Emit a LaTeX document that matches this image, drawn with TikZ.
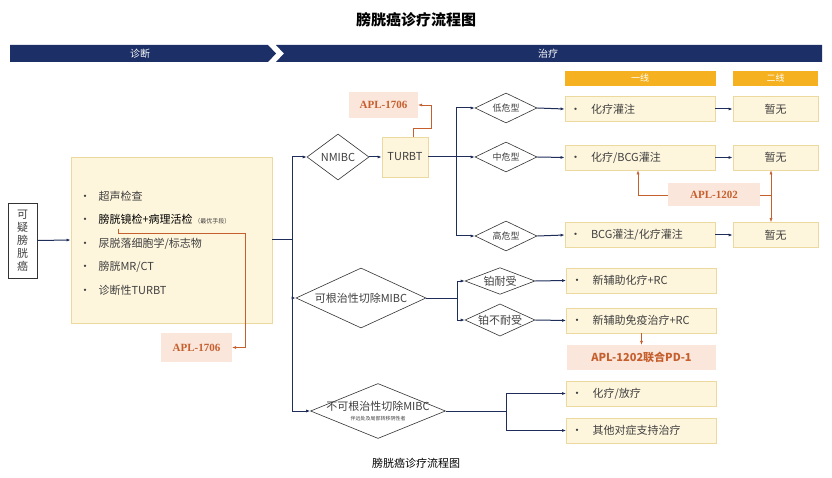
\documentclass[tikz,border=0pt]{standalone}
\usepackage{fontspec}
\setmainfont{Liberation Serif}
\newfontfamily\cjk{Noto Sans CJK SC}
\usetikzlibrary{shapes.geometric,arrows.meta}
\definecolor{navy}{HTML}{1C2F66}
\definecolor{hdr}{HTML}{F5B120}
\definecolor{bfill}{HTML}{FDF5DC}
\definecolor{bline}{HTML}{ECD9A0}
\definecolor{aplfill}{HTML}{FBE6DC}
\definecolor{apltext}{HTML}{C5602E}
\definecolor{ln}{HTML}{1F2D5A}
\begin{document}
\begin{tikzpicture}[x=1pt,y=-1pt,
  every node/.style={font=\cjk\fontsize{11}{13}\selectfont,text=black!75},
  ybox/.style={draw=bline,fill=bfill,line width=0.8pt,minimum height=25pt,inner sep=2pt},
  lbox/.style={ybox,minimum width=150pt,text width=140pt,align=left},
  rbox/.style={ybox,minimum width=85pt},
  dia/.style={diamond,draw=black!80,aspect=2,inner sep=0pt,line width=0.6pt},
  apl/.style={fill=aplfill,text=apltext,font=\bfseries\fontsize{11}{13}\selectfont,inner sep=3pt},
  hd/.style={fill=hdr,text=white,minimum height=15pt,inner sep=0pt,font=\cjk\fontsize{9}{10}\selectfont},
  arr/.style={-{Latex[length=4pt,width=3pt]},draw=ln,line width=1pt},
  oarr/.style={-{Latex[length=4pt,width=3pt]},draw=apltext,line width=0.5pt},
  ln/.style={draw=ln,line width=1pt}]
\useasboundingbox (0,0) rectangle (832,478);
\fill[white] (0,0) rectangle (832,478);
\node[font=\cjk\bfseries\fontsize{15}{17}\selectfont,text=black] (title) at (416,20) {膀胱癌诊疗流程图};
\fill[navy] (10,45) -- (268,45) -- (276,53.5) -- (268,62) -- (10,62) -- cycle;
\fill[navy] (276,45) -- (822,45) -- (822,62) -- (276,62) -- (284,53.5) -- cycle;
\node[text=white,font=\cjk\fontsize{10}{12}\selectfont] (zd) at (140,53.5) {诊断};
\node[text=white,font=\cjk\fontsize{10}{12}\selectfont] (zl) at (548,53.5) {治疗};
\node[hd,minimum width=151pt] (h1) at (640,78.5) {一线};
\node[hd,minimum width=85pt] (h2) at (775.5,78.5) {二线};
% diagnosis
\node[draw=black!80,fill=white,minimum width=29pt,minimum height=75pt,inner sep=1pt,align=center,font=\cjk\fontsize{11}{13}\selectfont] (sus) at (22.5,240.5) {可\\疑\\膀\\胱\\癌};
\node[ybox,minimum width=201pt,minimum height=166pt] (diag) at (171.5,240) {};
\node[anchor=west,align=left,font=\cjk\fontsize{11}{23.5}\selectfont] (items) at (76,243) {•\hspace{8pt}超声检查\\•\hspace{8pt}{\color{black}膀胱镜检+病理活检}\,{\fontsize{6}{7}\selectfont\itshape（最优手段）}\\•\hspace{8pt}尿脱落细胞学/标志物\\•\hspace{8pt}膀胱MR/CT\\•\hspace{8pt}诊断性TURBT};
\coordinate (cy) at (118,229);
\node[apl,minimum width=71pt,minimum height=29pt] (apl1) at (196.5,347.5) {APL-1706};
\draw[oarr] (cy) -- (118,233) -- (245,233) -- (245,347.5) -- (apl1.east);
\draw[arr] (sus.east) -- (diag.west);
\coordinate (trunk) at (292,240);
\draw[ln] (diag.east) -- (trunk);
\draw[ln] (292,157) -- (292,412);
% NMIBC
\node[dia,minimum width=62pt,minimum height=46pt] (nm) at (338,157) {NMIBC};
\node[ybox,minimum width=46pt,minimum height=40pt] (tur) at (405,157) {TURBT};
\node[apl,minimum width=69pt,minimum height=26pt] (apl2) at (383.5,105) {APL-1706};
\draw[arr] (292,157) -- (nm.west);
\draw[arr] (nm.east) -- (tur.west);
\draw[oarr] (413,137) -- (413,128) -- (431,128) -- (431,105) -- (apl2.east);
\node[dia,minimum width=62pt,minimum height=30pt,font=\cjk\fontsize{9}{10}\selectfont] (low) at (506,108) {低危型};
\node[dia,minimum width=62pt,minimum height=30pt,font=\cjk\fontsize{9}{10}\selectfont] (mid) at (506,157) {中危型};
\node[dia,minimum width=62pt,minimum height=30pt,font=\cjk\fontsize{9}{10}\selectfont] (high) at (506,236) {高危型};
\draw[ln] (tur.east) -- (456,157);
\draw[ln] (456,108) -- (456,236);
\draw[arr] (456,108) -- (low.west);
\draw[arr] (456,157) -- (mid.west);
\draw[arr] (456,236) -- (high.west);
\node[lbox] (l1) at (640,109) {•\hspace{10pt}化疗灌注};
\node[lbox] (l2) at (640,157.5) {•\hspace{10pt}化疗/BCG灌注};
\node[lbox] (l3) at (640,235) {•\hspace{10pt}BCG灌注/化疗灌注};
\node[rbox] (r1) at (775.5,109) {暂无};
\node[rbox] (r2) at (775.5,157.5) {暂无};
\node[rbox] (r3) at (775.5,235) {暂无};
\foreach \a/\b in {low/l1,mid/l2,high/l3,l1/r1,l2/r2,l3/r3} \draw[arr] (\a.east) -- (\b.west);
\node[apl,minimum width=92pt,minimum height=23pt] (apl3) at (714,195) {APL-1202};
\coordinate (a3l) at (638,195);
\coordinate (a3r) at (771,195);
\draw[oarr] (apl3.west) -- (a3l) -- (a3l |- l2.south);
\draw[draw=apltext,line width=0.5pt] (apl3.east) -- (a3r);
\draw[oarr] (a3r) -- (a3r |- r2.south);
\draw[oarr] (a3r) -- (a3r |- r3.north);
% resectable MIBC
\node[dia,minimum width=130pt,minimum height=60pt] (mibc) at (361,298) {可根治性切除MIBC};
\draw[arr] (292,298) -- (mibc.west);
\node[dia,minimum width=70pt,minimum height=26pt] (pt1) at (500,281) {铂耐受};
\node[dia,minimum width=70pt,minimum height=26pt] (pt2) at (500,320) {铂不耐受};
\draw[ln] (mibc.east) -- (457,298);
\draw[ln] (457,281) -- (457,320);
\draw[arr] (457,281) -- (pt1.west);
\draw[arr] (457,320) -- (pt2.west);
\node[lbox] (m1) at (641.5,280.5) {•\hspace{10pt}新辅助化疗+RC};
\node[lbox] (m2) at (641.5,320.5) {•\hspace{10pt}新辅助免疫治疗+RC};
\draw[arr] (pt1.east) -- (m1.west);
\draw[arr] (pt2.east) -- (m2.west);
\node[apl,minimum width=149pt,minimum height=25pt,font=\cjk\bfseries\fontsize{11}{13}\selectfont] (apl4) at (641.5,357.5) {APL-1202联合PD-1};
\draw[oarr] (m2.south) -- (apl4.north);
% unresectable
\node[dia,minimum width=135pt,minimum height=55pt] (un) at (378,411) {};
\node (unt) at (378,406) {不可根治性切除MIBC};
\node[font=\cjk\itshape\fontsize{5}{6}\selectfont] (uns) at (378,419) {伴远处及局部转移阴性者};
\draw[arr] (292,411) -- (un.west);
\draw[ln] (un.east) -- (506,411);
\draw[ln] (506,393.5) -- (506,430.5);
\node[lbox] (u1) at (641.5,393.5) {•\hspace{10pt}化疗/放疗};
\node[lbox] (u2) at (641.5,430.5) {•\hspace{10pt}其他对症支持治疗};
\draw[arr] (506,393.5) -- (u1.west);
\draw[arr] (506,430.5) -- (u2.west);
\node[font=\cjk\fontsize{11}{13}\selectfont,text=black] (cap) at (416,463) {膀胱癌诊疗流程图};
\end{tikzpicture}
\end{document}
